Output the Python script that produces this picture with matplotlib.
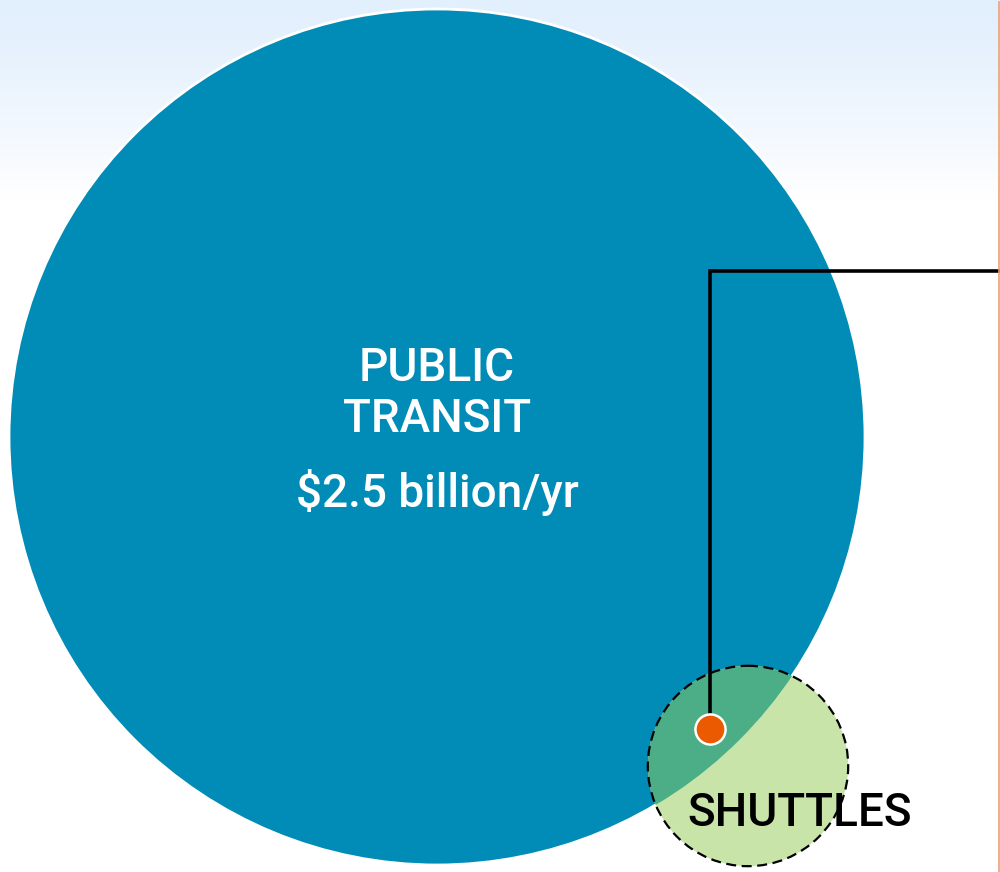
import numpy as np
import matplotlib.pyplot as plt
from matplotlib.patches import Circle

plt.rcParams['font.family'] = ['Roboto', 'Liberation Sans', 'DejaVu Sans']

# budgets in billions per year, circle area scales with budget
names = ['PUBLIC\nTRANSIT', 'SHUTTLES']
budgets = [2.5, 0.137]
centers = [(437, 437), (748, 766)]
amount_label = '$2.5 billion/yr'

big_r = 428
radii = [big_r * np.sqrt(b / budgets[0]) for b in budgets]

fig = plt.figure(figsize=(10, 8.72), dpi=100)
ax = fig.add_axes([0, 0, 1, 1])
ax.set_xlim(0, 1000)
ax.set_ylim(872, 0)
ax.axis('off')

# gradient background (light blue fading to white)
grad = np.ones((872, 1, 3))
top = np.array([0xE2, 0xEF, 0xFD]) / 255
t = np.clip(np.arange(872) / 200.0, 0, 1) ** 1.3
for i in range(3):
    grad[:, 0, i] = top[i] + (1 - top[i]) * t
ax.imshow(grad, extent=[0, 1000, 872, 0], aspect='auto', zorder=0)

# big circle
big = Circle(centers[0], radii[0], facecolor='#008CB6', edgecolor='white', lw=2, zorder=1)
ax.add_patch(big)

# small circle
small = Circle(centers[1], radii[1], facecolor='#C8E4A8', edgecolor='none', zorder=2)
ax.add_patch(small)

# overlap
overlap = Circle(centers[0], radii[0], facecolor='#4BAE86', edgecolor='none', zorder=3)
ax.add_patch(overlap)
overlap.set_clip_path(small)

outline = Circle(centers[1], radii[1], facecolor='none', edgecolor='black', lw=1.6,
                 linestyle=(0, (4.5, 2.5)), zorder=4)
ax.add_patch(outline)

# callout line and dot
dot = (710, 729)
ax.plot([dot[0], dot[0], 1000], [dot[1], 271, 271], color='black', lw=2.6, zorder=5,
        solid_joinstyle='miter')
ax.scatter([dot[0]], [dot[1]], s=470, color='#EB5A00', edgecolor='white', linewidth=1.8, zorder=6)

# thin orange edge at right
ax.plot([999, 999], [2, 872], color='#E9A377', lw=1.2, zorder=5)

# labels
line1, line2 = names[0].split('\n')
ax.text(437, 368, line1, color='white', fontsize=33, fontweight='medium', ha='center', va='center', zorder=7)
ax.text(437, 419, line2, color='white', fontsize=33, fontweight='medium', ha='center', va='center', zorder=7)
ax.text(437, 492, amount_label, color='white', fontsize=33, fontweight='medium', ha='center', va='center', zorder=7)
ax.text(800, 813, names[1], color='black', fontsize=33, fontweight='medium', ha='center', va='center', zorder=7)

fig.savefig('out.png', dpi=100)
